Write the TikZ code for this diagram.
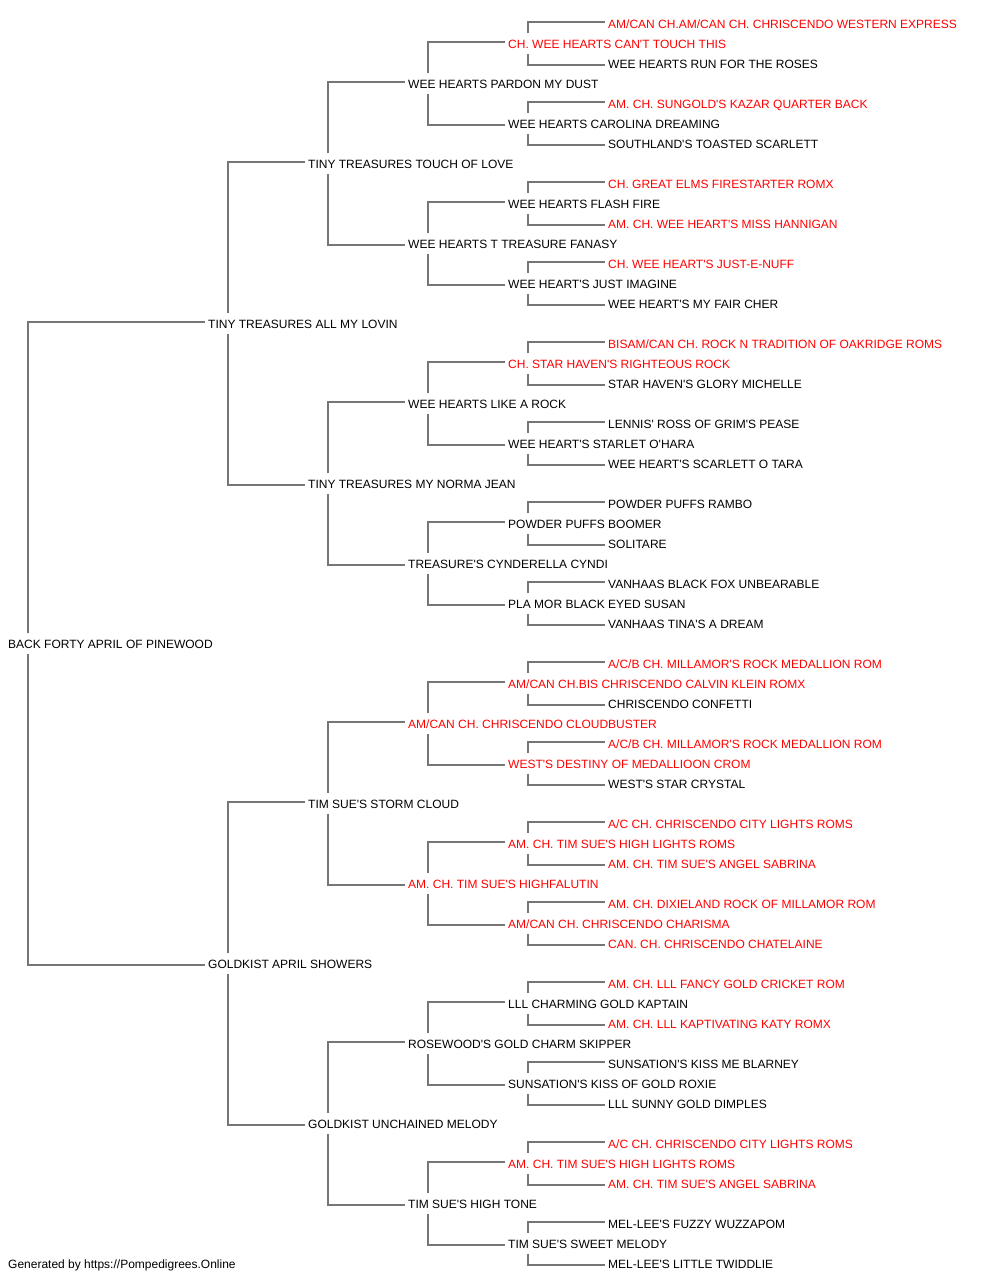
\documentclass[tikz,border=0pt]{standalone}
\usepackage{fontspec}
\setmainfont{Liberation Sans}[Ligatures=TeXOff]
\definecolor{linkgray}{HTML}{767676}
\definecolor{champ}{HTML}{FF0000}
\begin{document}
\begin{tikzpicture}[x=1pt,y=-1pt,
  pn/.style={anchor=west, inner sep=0pt, text height=10.2pt, text depth=0pt, font=\fontsize{12}{14}\selectfont, text=black},
  ch/.style={pn, text=champ},
  link/.style={draw=linkgray, line width=1.8pt}]
\useasboundingbox (0,0) rectangle (1000,1280);
% generation 0
\node[pn] (n1) at (8,643) {BACK FORTY APRIL OF PINEWOOD};
% generation 1
\node[pn] (n2) at (208,323) {TINY TREASURES ALL MY LOVIN};
\node[pn] (n3) at (208,963) {GOLDKIST APRIL SHOWERS};
% generation 2
\node[pn] (n4) at (308,163) {TINY TREASURES TOUCH OF LOVE};
\node[pn] (n5) at (308,483) {TINY TREASURES MY NORMA JEAN};
\node[pn] (n6) at (308,803) {TIM SUE'S STORM CLOUD};
\node[pn] (n7) at (308,1123) {GOLDKIST UNCHAINED MELODY};
% generation 3
\node[pn] (n8) at (408,83) {WEE HEARTS PARDON MY DUST};
\node[pn] (n9) at (408,243) {WEE HEARTS T TREASURE FANASY};
\node[pn] (n10) at (408,403) {WEE HEARTS LIKE A ROCK};
\node[pn] (n11) at (408,563) {TREASURE'S CYNDERELLA CYNDI};
\node[ch] (n12) at (408,723) {AM/CAN CH. CHRISCENDO CLOUDBUSTER};
\node[ch] (n13) at (408,883) {AM. CH. TIM SUE'S HIGHFALUTIN};
\node[pn] (n14) at (408,1043) {ROSEWOOD'S GOLD CHARM SKIPPER};
\node[pn] (n15) at (408,1203) {TIM SUE'S HIGH TONE};
% generation 4
\node[ch] (n16) at (508,43) {CH. WEE HEARTS CAN'T TOUCH THIS};
\node[pn] (n17) at (508,123) {WEE HEARTS CAROLINA DREAMING};
\node[pn] (n18) at (508,203) {WEE HEARTS FLASH FIRE};
\node[pn] (n19) at (508,283) {WEE HEART'S JUST IMAGINE};
\node[ch] (n20) at (508,363) {CH. STAR HAVEN'S RIGHTEOUS ROCK};
\node[pn] (n21) at (508,443) {WEE HEART'S STARLET O'HARA};
\node[pn] (n22) at (508,523) {POWDER PUFFS BOOMER};
\node[pn] (n23) at (508,603) {PLA MOR BLACK EYED SUSAN};
\node[ch] (n24) at (508,683) {AM/CAN CH.BIS CHRISCENDO CALVIN KLEIN ROMX};
\node[ch] (n25) at (508,763) {WEST'S DESTINY OF MEDALLIOON CROM};
\node[ch] (n26) at (508,843) {AM. CH. TIM SUE'S HIGH LIGHTS ROMS};
\node[ch] (n27) at (508,923) {AM/CAN CH. CHRISCENDO CHARISMA};
\node[pn] (n28) at (508,1003) {LLL CHARMING GOLD KAPTAIN};
\node[pn] (n29) at (508,1083) {SUNSATION'S KISS OF GOLD ROXIE};
\node[ch] (n30) at (508,1163) {AM. CH. TIM SUE'S HIGH LIGHTS ROMS};
\node[pn] (n31) at (508,1243) {TIM SUE'S SWEET MELODY};
% generation 5
\node[ch] (n32) at (608,23) {AM/CAN CH.AM/CAN CH. CHRISCENDO WESTERN EXPRESS};
\node[pn] (n33) at (608,63) {WEE HEARTS RUN FOR THE ROSES};
\node[ch] (n34) at (608,103) {AM. CH. SUNGOLD'S KAZAR QUARTER BACK};
\node[pn] (n35) at (608,143) {SOUTHLAND'S TOASTED SCARLETT};
\node[ch] (n36) at (608,183) {CH. GREAT ELMS FIRESTARTER ROMX};
\node[ch] (n37) at (608,223) {AM. CH. WEE HEART'S MISS HANNIGAN};
\node[ch] (n38) at (608,263) {CH. WEE HEART'S JUST-E-NUFF};
\node[pn] (n39) at (608,303) {WEE HEART'S MY FAIR CHER};
\node[ch] (n40) at (608,343) {BISAM/CAN CH. ROCK N TRADITION OF OAKRIDGE ROMS};
\node[pn] (n41) at (608,383) {STAR HAVEN'S GLORY MICHELLE};
\node[pn] (n42) at (608,423) {LENNIS' ROSS OF GRIM'S PEASE};
\node[pn] (n43) at (608,463) {WEE HEART'S SCARLETT O TARA};
\node[pn] (n44) at (608,503) {POWDER PUFFS RAMBO};
\node[pn] (n45) at (608,543) {SOLITARE};
\node[pn] (n46) at (608,583) {VANHAAS BLACK FOX UNBEARABLE};
\node[pn] (n47) at (608,623) {VANHAAS TINA'S A DREAM};
\node[ch] (n48) at (608,663) {A/C/B CH. MILLAMOR'S ROCK MEDALLION ROM};
\node[pn] (n49) at (608,703) {CHRISCENDO CONFETTI};
\node[ch] (n50) at (608,743) {A/C/B CH. MILLAMOR'S ROCK MEDALLION ROM};
\node[pn] (n51) at (608,783) {WEST'S STAR CRYSTAL};
\node[ch] (n52) at (608,823) {A/C CH. CHRISCENDO CITY LIGHTS ROMS};
\node[ch] (n53) at (608,863) {AM. CH. TIM SUE'S ANGEL SABRINA};
\node[ch] (n54) at (608,903) {AM. CH. DIXIELAND ROCK OF MILLAMOR ROM};
\node[ch] (n55) at (608,943) {CAN. CH. CHRISCENDO CHATELAINE};
\node[ch] (n56) at (608,983) {AM. CH. LLL FANCY GOLD CRICKET ROM};
\node[ch] (n57) at (608,1023) {AM. CH. LLL KAPTIVATING KATY ROMX};
\node[pn] (n58) at (608,1063) {SUNSATION'S KISS ME BLARNEY};
\node[pn] (n59) at (608,1103) {LLL SUNNY GOLD DIMPLES};
\node[ch] (n60) at (608,1143) {A/C CH. CHRISCENDO CITY LIGHTS ROMS};
\node[ch] (n61) at (608,1183) {AM. CH. TIM SUE'S ANGEL SABRINA};
\node[pn] (n62) at (608,1223) {MEL-LEE'S FUZZY WUZZAPOM};
\node[pn] (n63) at (608,1263) {MEL-LEE'S LITTLE TWIDDLIE};
% footer
\node[pn] (foot) at (8,1263) {Generated by https://Pompedigrees.Online};
% connectors
\foreach \i in {1,...,31}{
  \pgfmathtruncatemacro\s{2*\i}
  \pgfmathtruncatemacro\d{2*\i+1}
  \draw[link] ([xshift=20pt,yshift=10pt]n\i.west) |- ([xshift=-3pt,yshift=1pt]n\s.west);
  \draw[link] ([xshift=20pt,yshift=-11pt]n\i.west) |- ([xshift=-3pt,yshift=-2pt]n\d.west);
}
\end{tikzpicture}
\end{document}
